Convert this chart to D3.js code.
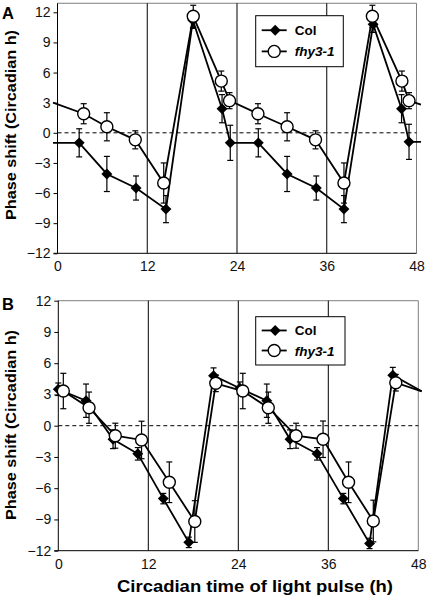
<!DOCTYPE html>
<html>
<head>
<meta charset="utf-8">
<script src="https://cdn.jsdelivr.net/npm/d3@7"></script>
<style>
  html, body { margin: 0; padding: 0; background: #fff; }
  svg { display: block; font-family: "Liberation Sans", Arial, sans-serif; }
</style>
</head>
<body>
<svg id="chart" width="427" height="599"></svg>
<script>
// ---------- data ----------
const seriesNames = ["Col", "fhy3-1"];
const xTicks = [0, 12, 24, 36, 48];
const yTicks = [-12, -9, -6, -3, 0, 3, 6, 9, 12];
const gridHours = [12, 24, 36];

// Panel A
const aColHours = [-0.6, 2.9, 6.6, 10.5, 14.5, 18.1, 22.0, 23.1, 26.85, 30.7, 34.6, 38.3, 42.2, 46.0, 47.0, 48.6];
const aColValues = [-1.0, -1.0, -4.1, -5.5, -7.6, 11.2, 2.4, -1.0, -1.0, -4.1, -5.5, -7.6, 10.8, 2.4, -0.9, -0.9];
const aColErrors = [null, 1.4, 1.75, 1.2, 1.35, 0.8, 1.4, 1.75, 1.4, 1.75, 1.2, 1.35, 0.8, 1.4, 1.75, null];

const aFhyHours = [-0.6, 3.5, 6.6, 10.4, 14.2, 18.15, 21.9, 23.0, 26.8, 30.7, 34.5, 38.3, 42.1, 46.05, 47.0, 48.6];
const aFhyValues = [3.0, 1.9, 0.6, -0.7, -5.0, 11.6, 5.15, 3.2, 1.9, 0.6, -0.7, -5.0, 11.6, 5.15, 3.2, 2.8];
const aFhyErrors = [null, 1.0, 1.4, 0.9, 2.0, 1.1, 1.0, 0.8, 1.0, 1.4, 0.9, 2.0, 1.1, 1.0, 0.8, null];

// Panel B
const bColHours = [0, 3.7, 7.3, 10.6, 14.0, 17.4, 20.7, 24.2, 27.8, 30.9, 34.5, 38.0, 41.5, 44.6, 48.45];
const bColValues = [3.5, 2.4, -1.3, -2.7, -7.0, -11.2, 4.8, 3.6, 2.4, -1.3, -2.7, -7.0, -11.3, 4.85, 3.3];
const bColErrors = [0.6, 1.6, 0.9, 0.6, 0.5, 0.5, 0.75, 0.6, 1.6, 0.9, 0.6, 0.5, 0.5, 0.75, null];

const bFhyHours = [0.67, 4.1, 7.6, 11.1, 14.8, 18.2, 21.0, 24.6, 28.0, 31.7, 35.3, 38.7, 42.0, 45.0, 48.45];
const bFhyValues = [3.33, 1.73, -0.96, -1.37, -5.43, -9.2, 4.07, 3.33, 1.73, -0.96, -1.3, -5.43, -9.15, 4.13, 3.3];
const bFhyErrors = [1.7, 1.5, 1.2, 1.8, 1.95, 2.0, 0.8, 1.7, 1.5, 1.2, 1.75, 1.95, 2.0, 0.8, null];

const yTitle = "Phase shift (Circadian h)";
const xTitle = "Circadian time of light pulse (h)";

// ---------- drawing ----------
const svg = d3.select("#chart");
const FONT = '"Liberation Sans", Arial, sans-serif';

function zip(h, v, e) {
  return h.map((d, i) => ({ h: d, v: v[i], e: e[i], marker: e[i] !== null }));
}

function drawPanel(cfg) {
  const x = d3.scaleLinear().domain([0, 48]).range([cfg.x0, cfg.x1]);
  const y = d3.scaleLinear().domain([-12, 12]).range([cfg.y0, cfg.y1]);
  const g = svg.append("g");
  const frameTop = y(cfg.yTopVal);

  // frame (gray top/right)
  g.append("line").attr("x1", x(0)).attr("x2", x(48)).attr("y1", frameTop).attr("y2", frameTop)
    .attr("stroke", "#7f7f7f").attr("stroke-width", 1);
  g.append("line").attr("x1", x(48)).attr("x2", x(48)).attr("y1", frameTop).attr("y2", y(-12))
    .attr("stroke", "#7f7f7f").attr("stroke-width", 1);

  // vertical lines
  g.selectAll(".vgrid").data(gridHours).join("line")
    .attr("x1", d => x(d)).attr("x2", d => x(d))
    .attr("y1", frameTop).attr("y2", y(-12))
    .attr("stroke", "#000").attr("stroke-width", 1);

  // zero dashed line
  g.append("line").attr("x1", x(0)).attr("x2", x(48)).attr("y1", y(0)).attr("y2", y(0))
    .attr("stroke", "#000").attr("stroke-width", 1).attr("stroke-dasharray", "4,3");

  // y axis
  const yAxis = d3.axisLeft(y).tickValues(yTicks).tickSize(4).tickPadding(3);
  const ya = g.append("g").attr("transform", `translate(${x(0)},0)`).call(yAxis);
  ya.select(".domain").remove();
  ya.append("line").attr("x1", 0).attr("x2", 0).attr("y1", frameTop).attr("y2", y(-12))
    .attr("stroke", "#000").attr("stroke-width", 1);
  ya.selectAll("text").attr("font-size", 14).attr("font-family", FONT).attr("fill", "#111");
  ya.selectAll(".tick line").attr("stroke", "#000");

  // x axis
  const xAxis = d3.axisBottom(x).tickValues(xTicks).tickSize(0).tickPadding(8);
  const xa = g.append("g").attr("transform", `translate(0,${y(-12)})`).call(xAxis);
  xa.select(".domain").remove();
  xa.append("line").attr("x1", x(0) - 4).attr("x2", x(48)).attr("y1", 0).attr("y2", 0)
    .attr("stroke", "#000").attr("stroke-width", 1);
  xa.selectAll("text").attr("font-size", 14).attr("font-family", FONT).attr("fill", "#111");

  // y title
  g.append("text")
    .attr("transform", `translate(${cfg.yTitleX},${cfg.yTitleC}) rotate(-90)`)
    .attr("text-anchor", "middle").attr("font-size", 15).attr("font-weight", "bold")
    .attr("textLength", 190).attr("lengthAdjust", "spacingAndGlyphs")
    .attr("font-family", FONT).text(yTitle);

  // panel letter
  g.append("text").attr("x", 2).attr("y", cfg.letterY).attr("font-size", 16.5)
    .attr("font-weight", "bold").attr("font-family", FONT).text(cfg.letter);

  const line = d3.line().x(d => x(d.h)).y(d => y(d.v));

  function series(data, kind) {
    const s = g.append("g");
    s.append("path").datum(data).attr("d", line).attr("fill", "none")
      .attr("stroke", "#000").attr("stroke-width", 1.8);
    const pts = data.filter(d => d.marker);
    const eb = s.selectAll(".eb").data(pts).join("g");
    eb.append("line").attr("x1", d => x(d.h)).attr("x2", d => x(d.h))
      .attr("y1", d => y(d.v + d.e)).attr("y2", d => y(d.v - d.e))
      .attr("stroke", "#000").attr("stroke-width", 1.2);
    [1, -1].forEach(sg => {
      eb.append("line").attr("x1", d => x(d.h) - 3).attr("x2", d => x(d.h) + 3)
        .attr("y1", d => y(d.v + sg * d.e)).attr("y2", d => y(d.v + sg * d.e))
        .attr("stroke", "#000").attr("stroke-width", 1.2);
    });
    if (kind === "diamond") {
      s.selectAll(".m").data(pts).join("path")
        .attr("d", d3.symbol().type(d3.symbolDiamond2).size(76))
        .attr("transform", d => `translate(${x(d.h)},${y(d.v)})`)
        .attr("fill", "#000");
    } else {
      s.selectAll(".m").data(pts).join("circle")
        .attr("cx", d => x(d.h)).attr("cy", d => y(d.v)).attr("r", 6)
        .attr("fill", "#fff").attr("stroke", "#000").attr("stroke-width", 1.4);
    }
  }
  series(cfg.col, "diamond");
  series(cfg.fhy, "circle");

  // legend
  const L = cfg.legend;
  const lg = g.append("g");
  lg.append("rect").attr("x", L.x).attr("y", L.y).attr("width", L.w).attr("height", L.h)
    .attr("fill", "#fff").attr("stroke", "#000").attr("stroke-width", 1);
  seriesNames.forEach((name, i) => {
    const cy = L.y + L.h * (i === 0 ? 0.285 : 0.7);
    lg.append("line").attr("x1", L.x + 6).attr("x2", L.x + 31).attr("y1", cy).attr("y2", cy)
      .attr("stroke", "#000").attr("stroke-width", 1.8);
    if (i === 0) {
      lg.append("path").attr("d", d3.symbol().type(d3.symbolDiamond2).size(76))
        .attr("transform", `translate(${L.x + 19.5},${cy})`).attr("fill", "#000");
    } else {
      lg.append("circle").attr("cx", L.x + 18.5).attr("cy", cy).attr("r", 6)
        .attr("fill", "#fff").attr("stroke", "#000").attr("stroke-width", 1.4);
    }
    lg.append("text").attr("x", L.x + 39).attr("y", cy + 5).attr("font-size", 13.5)
      .attr("font-weight", "bold").attr("font-style", i === 1 ? "italic" : "normal")
      .attr("font-family", FONT).text(name);
  });
}

drawPanel({
  x0: 57.5, x1: 416.5, y0: 253.3, y1: 12.3, yTopVal: 12.9,
  letter: "A", letterY: 18.5, yTitleX: 16, yTitleC: 125,
  col: zip(aColHours, aColValues, aColErrors),
  fhy: zip(aFhyHours, aFhyValues, aFhyErrors),
  legend: { x: 255.7, y: 15.7, w: 87.6, h: 51 }
});

drawPanel({
  x0: 58.3, x1: 418.3, y0: 550.7, y1: 300.7, yTopVal: 12,
  letter: "B", letterY: 310, yTitleX: 16, yTitleC: 425,
  col: zip(bColHours, bColValues, bColErrors),
  fhy: zip(bFhyHours, bFhyValues, bFhyErrors),
  legend: { x: 255.7, y: 316.7, w: 89.3, h: 48.3 }
});

svg.append("text").attr("x", 255).attr("y", 592).attr("text-anchor", "middle")
  .attr("font-size", 17).attr("font-weight", "bold")
  .attr("textLength", 276).attr("lengthAdjust", "spacingAndGlyphs")
  .attr("font-family", FONT).text(xTitle);
</script>
</body>
</html>
